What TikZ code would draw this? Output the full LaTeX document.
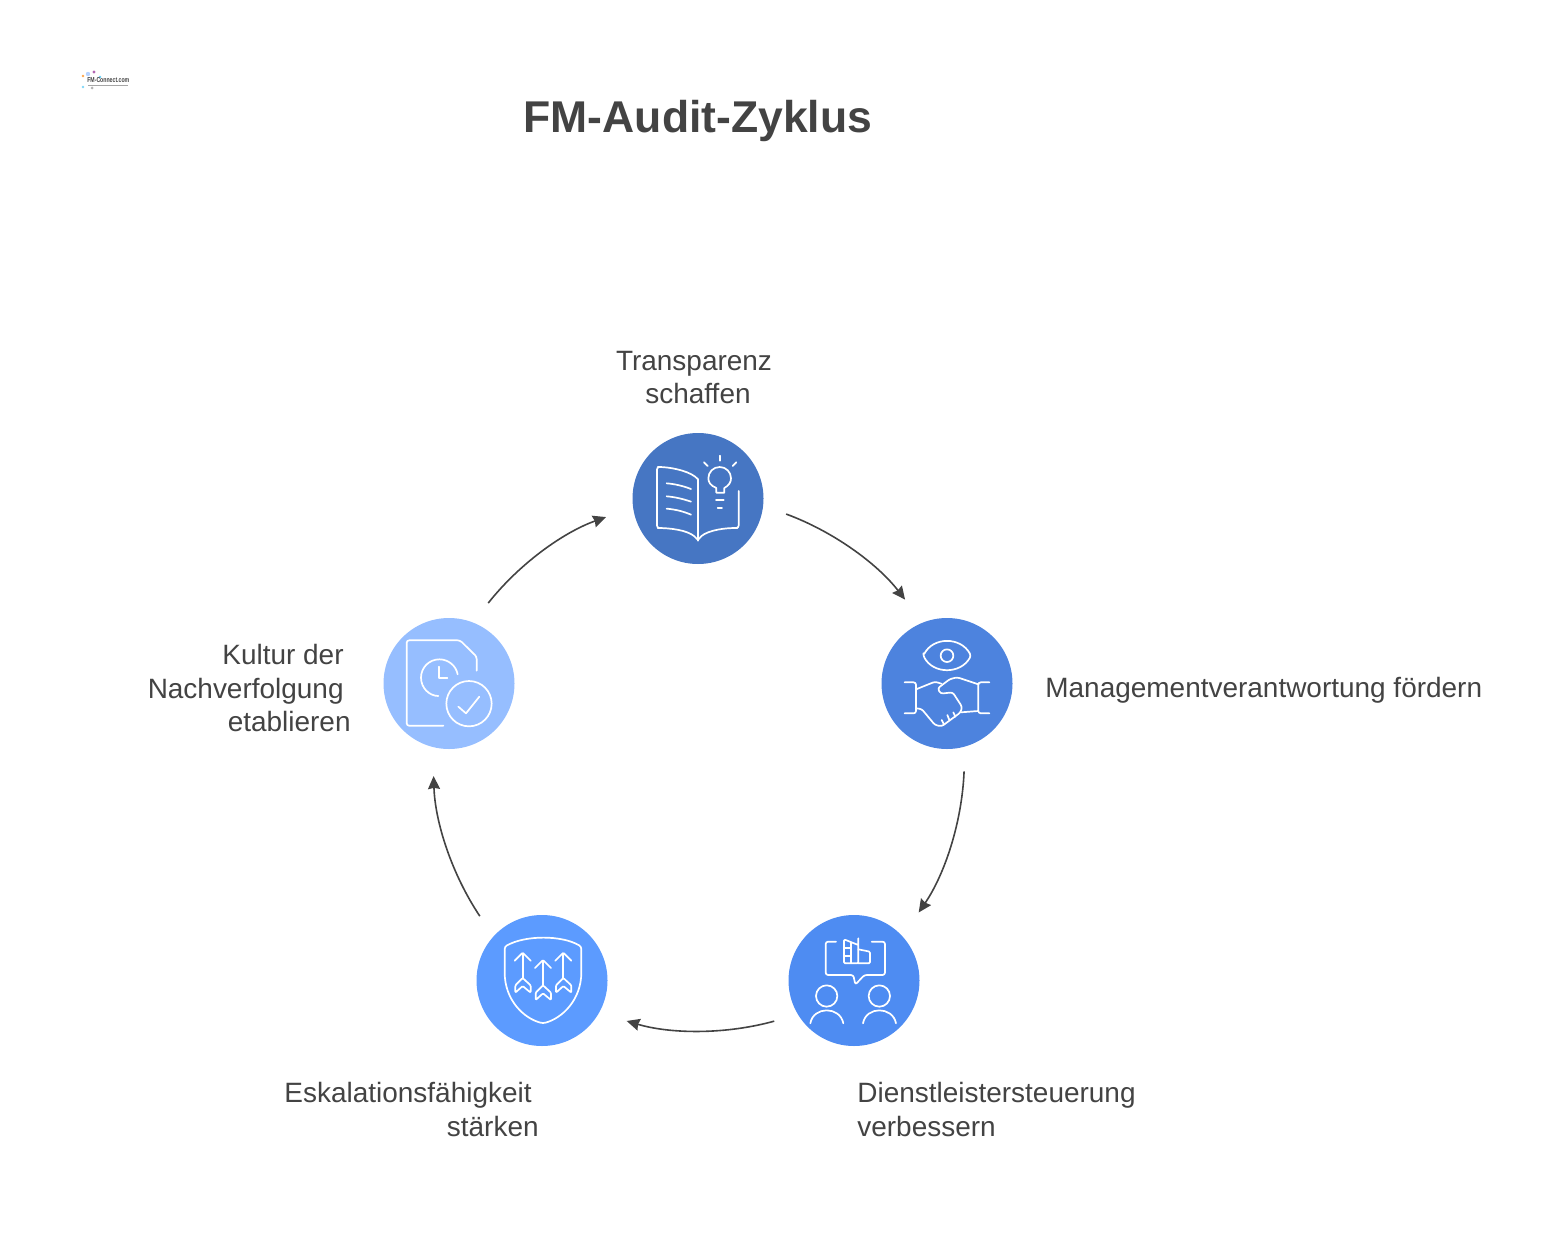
\documentclass[tikz,border=0pt]{standalone}
\usepackage{fontspec}
\setmainfont{Liberation Sans}
\usetikzlibrary{arrows.meta}
\definecolor{ink}{HTML}{434343}
\definecolor{cA}{HTML}{4676C3}
\definecolor{cB}{HTML}{4D83DE}
\definecolor{cC}{HTML}{4E8CF2}
\definecolor{cD}{HTML}{5C9BFF}
\definecolor{cE}{HTML}{96BEFF}
\newcommand{\tailgap}[1]{\rule{#1}{0pt}}
\tikzset{
  stage/.style={circle,draw=none,minimum size=65.5pt,inner sep=0pt,outer sep=12pt},
  label text/.style={text=ink,inner sep=0pt,font=\fontsize{13.98}{16.75}\selectfont},
  conn/.style={draw=ink,line width=.8pt,-{Stealth[length=6.5pt,width=6pt,inset=.6pt]},shorten >=2.2pt},
  arcflow/.style={bend left=16,looseness=.85},
  icon/.style={shift={#1},scale=1/3,draw=white,line width=.85pt,line cap=round,line join=round,rounded corners=1.2pt},
}
\begin{document}
\begin{tikzpicture}[x=.5pt,y=-.5pt]
\useasboundingbox (0,0) rectangle (1558,1252);
% logo
\fill[cE!70!white] (88,74) circle (2.2);
\fill[violet!60] (94,72) circle (1.6);
\fill[orange!70] (83,76) circle (1.4);
\fill[cyan!60] (100,77) circle (1.4);
\fill[gray!60] (92,88) circle (1.5);
\fill[cyan!50] (83,87) circle (1.3);
\node[inner sep=0pt,anchor=west,text=ink,xscale=.72] (logo) at (87,80) {\fontsize{3.6}{4}\selectfont\bfseries FM-Connect.com};
\draw[gray!70,line width=.5pt] (88,86) -- (128,86);
% title
\node[inner sep=0pt,text=ink,font=\fontsize{22.25}{28}\selectfont\bfseries] (title) at (698,121) {FM-Audit-Zyklus};
% circles
\node[stage,fill=cA] (n1) at (698,498.5) {};
\node[stage,fill=cB] (n2) at (947,683.5) {};
\node[stage,fill=cC] (n3) at (854,980.5) {};
\node[stage,fill=cD] (n4) at (542,980.5) {};
\node[stage,fill=cE] (n5) at (449,683.5) {};
% connectors
\draw[conn] (n1.-10.9) to[arcflow] (n2.116.3);
\draw[conn] (n2.-79) to[arcflow] (n3.46.1);
\draw[conn] (n3.207.1) to[arcflow] (n4.-26.6);
\draw[conn] (n4.134.3) to[arcflow] (n5.-100.8);
\draw[conn] (n5.64.6) to[arcflow] (n1.191);
% labels
\node[label text,align=center] (l1) at (698,377.5) {Transparenz\tailgap{4pt}\\schaffen};
\node[label text,anchor=west] (l2) at (1045,690.5) {Managementverantwortung fördern};
\node[label text,align=left,anchor=north west] (l3) at (857,1082) {Dienstleistersteuerung\\verbessern};
\node[label text,align=right,anchor=north east] (l4) at (539,1082) {Eskalationsfähigkeit\tailgap{3.5pt}\\stärken};
\node[label text,align=right,anchor=north east] (l5) at (351,644) {Kultur der\tailgap{3.5pt}\\Nachverfolgung\tailgap{3.5pt}\\etablieren};
% book icon
\begin{scope}[icon={(620,420)}]
\draw (234,178) .. controls (215,155) and (160,143) .. (120,141) -- (111,141) -- (111,324) -- (120,324) .. controls (170,326) and (215,335) .. (234,362) .. controls (250,335) and (300,325) .. (345,324) -- (356,324) -- (356,213);
\draw (234,178) -- (234,362);
\draw (140,190) .. controls (165,192) and (190,198) .. (213,207);
\draw (140,229) .. controls (165,231) and (190,237) .. (213,245);
\draw (140,266) .. controls (165,268) and (190,274) .. (213,284);
\draw[sharp corners] (289,218) -- (289,204) .. controls (272,197) and (265,187) .. (265,175) .. controls (265,156) and (280,141) .. (299,141) .. controls (318,141) and (333,156) .. (333,175) .. controls (333,187) and (326,197) .. (313,204) -- (313,218) -- cycle;
\draw (288,241) -- (311,241);
\draw (293,263) -- (306,263);
\draw (299,107) -- (299,122);
\draw (252,127) -- (263,138);
\draw (349,127) -- (338,138);
\end{scope}
% handshake icon
\begin{scope}[icon={(870,605)}]
\draw (160,152) .. controls (190,95) and (272,95) .. (303,152) .. controls (272,208) and (190,208) .. (160,152) -- cycle;
\draw (231,152) circle (19);
\draw (104,232) -- (138,232) -- (138,325) -- (104,325);
\draw (358,232) -- (325,232) -- (325,325) -- (358,325);
\draw (138,253) -- (195,230) -- (214,236);
\draw (138,310) -- (155,312) -- (195,360) -- (215,364) -- (272,322) -- (276,305) -- (248,262) -- (212,266) -- (203,250) -- (240,222) -- (262,217) -- (325,238);
\draw (272,322) -- (325,318);
\draw (215,345) -- (222,358);
\draw (232,330) -- (238,345);
\draw (250,322) -- (256,335);
\end{scope}
% people icon
\begin{scope}[icon={(775,900)}]
\draw (183,125) -- (152,125) -- (152,225) -- (235,225) -- (241,254) -- (268,225) -- (330,225) -- (330,125) -- (290,125);
\draw[rounded corners=.6pt] (250,115) -- (250,190) -- (207,190) -- (207,118) -- (250,135);
\draw[rounded corners=.6pt] (250,148) -- (285,155) -- (285,190) -- (250,190);
\draw (207,145) -- (228,145);
\draw (207,168) -- (228,168);
\draw (228,128) -- (228,190);
\draw (155,288) circle (32);
\draw (313,288) circle (32);
\draw (106,370) .. controls (115,318) and (195,318) .. (205,370);
\draw (264,370) .. controls (273,318) and (353,318) .. (363,370);
\end{scope}
% shield icon
\begin{scope}[icon={(462,900)}]
\draw (128,140) .. controls (190,105) and (300,105) .. (358,140) -- (358,210) .. controls (358,300) and (300,355) .. (243,370) .. controls (185,355) and (128,300) .. (128,210) -- cycle;
\foreach \dx/\dy in {0/0,61/22,122/0}{
  \begin{scope}[shift={(\dx,\dy)},rounded corners=.5pt]
  \draw (182,160) -- (182,234);
  \draw (158,182) -- (182,158) -- (206,182);
  \draw (182,234) -- (206,256) -- (206,278) -- (182,258) -- (160,278) -- (160,256) -- cycle;
  \end{scope}
}
\end{scope}
% document icon
\begin{scope}[icon={(370,605)}]
\draw (220,362) -- (110,362) -- (110,106) -- (270,106) -- (320,155) -- (320,197);
\draw[sharp corners] (263,208) .. controls (258,182) and (235,163) .. (208,163) .. controls (177.6,163) and (153,187.6) .. (153,218) .. controls (153,248.4) and (177.6,273) .. (205,273);
\draw[sharp corners] (208,185) -- (208,218) -- (232,218);
\draw (297,296) circle (68);
\draw[sharp corners] (265,305) -- (288,325) -- (328,275);
\end{scope}
\end{tikzpicture}
\end{document}
